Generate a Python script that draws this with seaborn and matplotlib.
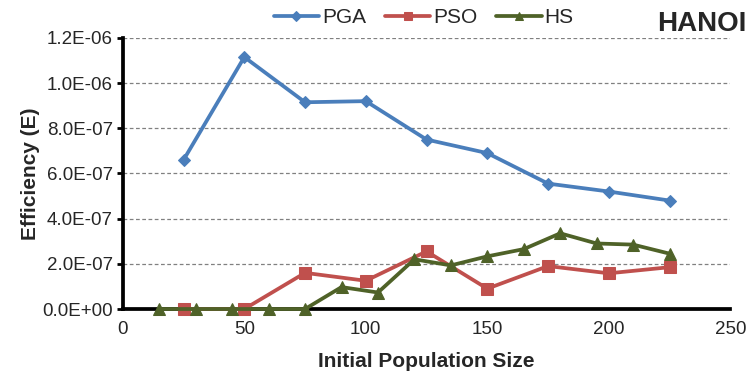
import numpy as np
import pandas as pd
import matplotlib
matplotlib.use("Agg")
import matplotlib.pyplot as plt
import seaborn as sns
from matplotlib.ticker import FuncFormatter

# values
pga_x = [25, 50, 75, 100, 125, 150, 175, 200, 225]
pga_y = [6.6e-7, 1.115e-6, 9.15e-7, 9.2e-7, 7.5e-7, 6.9e-7, 5.55e-7, 5.2e-7, 4.8e-7]

pso_x = [25, 50, 75, 100, 125, 150, 175, 200, 225]
pso_y = [0.0, 0.0, 1.6e-7, 1.25e-7, 2.55e-7, 0.9e-7, 1.9e-7, 1.58e-7, 1.85e-7]

hs_x = [15, 30, 45, 60, 75, 90, 105, 120, 135, 150, 165, 180, 195, 210, 225]
hs_y = [0.0, 0.0, 0.0, 0.0, 0.0, 0.97e-7, 0.73e-7, 2.2e-7, 1.93e-7, 2.33e-7,
        2.65e-7, 3.35e-7, 2.9e-7, 2.85e-7, 2.45e-7]

y_ticks = [0, 2e-7, 4e-7, 6e-7, 8e-7, 1e-6, 1.2e-6]
x_ticks = [0, 50, 100, 150, 200, 250]


def sci_fmt(v, pos):
    if v == 0:
        return "0.0E+00"
    return "%.1E" % v


def main():
    sns.set_style("white")
    plt.rcParams['font.family'] = ['Liberation Sans', 'DejaVu Sans']

    fig = plt.figure(figsize=(7.49, 3.75), dpi=100)
    ax = fig.add_axes([0.164, 0.176, 0.811, 0.723])

    series = [
        ("PGA", pga_x, pga_y, "#4A7EBB", "D", 6.5),
        ("PSO", pso_x, pso_y, "#C0504D", "s", 8),
        ("HS", hs_x, hs_y, "#4F6228", "^", 8.5),
    ]
    for name, xs, ys, col, mk, ms in series:
        df = pd.DataFrame({"x": xs, "y": ys})
        sns.lineplot(data=df, x="x", y="y", ax=ax, color=col, marker=mk,
                     markersize=ms, markeredgecolor=col, linewidth=2.7,
                     label=name, clip_on=False, zorder=3)

    ax.set_xlim(0, 250)
    ax.set_ylim(0, 1.2e-6)
    ax.set_xticks(x_ticks)
    ax.set_yticks(y_ticks)
    ax.yaxis.set_major_formatter(FuncFormatter(sci_fmt))
    ax.grid(axis="y", linestyle=(0, (3, 2)), color="#808080", linewidth=0.9)
    ax.grid(axis="x", visible=False)

    for side in ["top", "right"]:
        ax.spines[side].set_visible(False)
    for side in ["left", "bottom"]:
        ax.spines[side].set_color("black")
        ax.spines[side].set_linewidth(2.7)

    ax.tick_params(axis="y", direction="out", length=4, width=2, color="black",
                   labelsize=13.5, pad=3, left=True)
    ax.tick_params(axis="x", length=0, labelsize=13.5, pad=9)

    ax.set_xlabel("Initial Population Size", fontsize=15, fontweight="bold", labelpad=10)
    ax.set_ylabel("Efficiency (E)", fontsize=15, fontweight="bold", labelpad=2)

    leg = ax.legend(loc="center", bbox_to_anchor=(0.495, 1.075), ncol=3, frameon=False,
                    fontsize=15, handlelength=2.2, handletextpad=0.12, columnspacing=0.9,
                    borderaxespad=0, markerscale=0.75)

    fig.text(0.997, 0.936, "HANOI", ha="right", va="center", fontsize=20,
             fontweight="bold")

    plt.savefig("out.png", dpi=100)
    plt.close()


if __name__ == "__main__":
    main()
